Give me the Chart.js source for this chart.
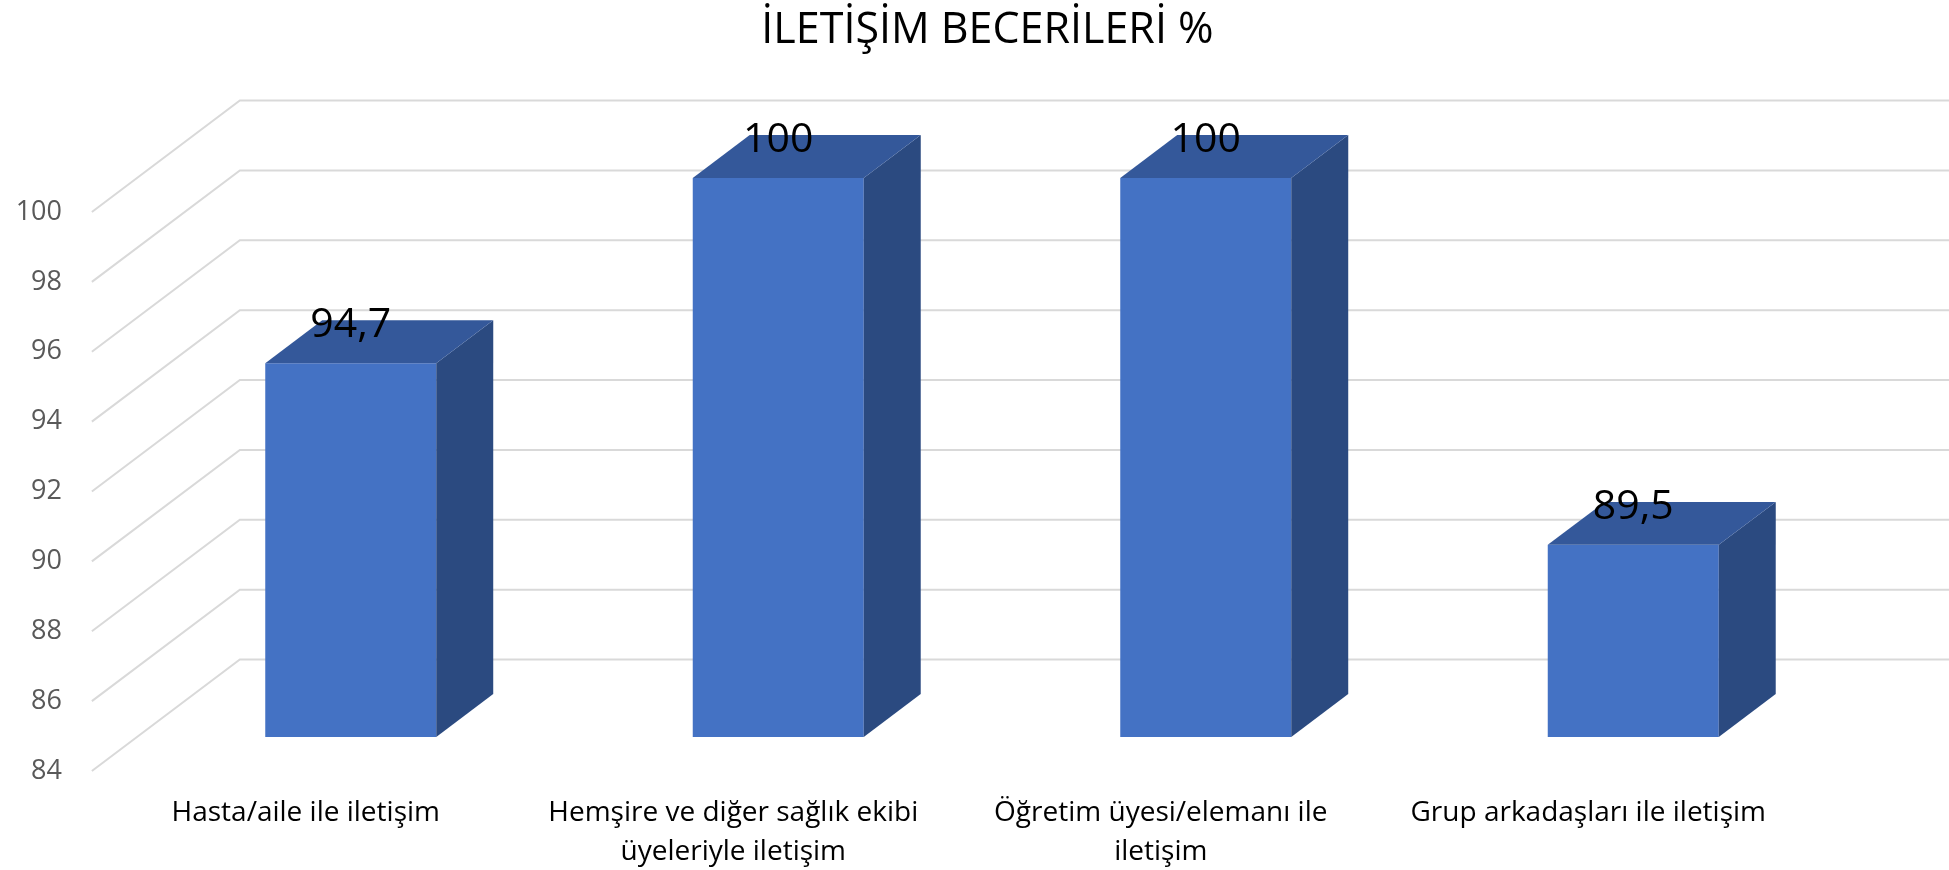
<!DOCTYPE html>
<html>
<head>
<meta charset="utf-8">
<script src="https://cdn.jsdelivr.net/npm/chart.js@4.4.1/dist/chart.umd.min.js"></script>
<style>
  html, body { margin: 0; padding: 0; background: #fff; }
  canvas { display: block; }
</style>
</head>
<body>
<canvas id="myChart" width="1949" height="870"></canvas>
<script>
const categories = [
  "Hasta/aile ile iletişim",
  ["Hemşire ve diğer sağlık ekibi", "üyeleriyle iletişim"],
  ["Öğretim üyesi/elemanı ile", "iletişim"],
  "Grup arkadaşları ile iletişim",
];
const values = [94.7, 100, 100, 89.5];
const yTicks = [84, 86, 88, 90, 92, 94, 96, 98, 100];

const FONT = "'Open Sans', 'Noto Sans', sans-serif";
// depth of the fake 3d box (front wall -> back wall)
const DEPTH = { x: 148, y: -111.5 };
const BAR_FRONT = 0.305; // where the bars start in the depth
const BAR_BACK = 0.69;

const fmt = (v) => v.toLocaleString("tr-TR");

const box3d = {
  id: "box3d",
  beforeDatasetsDraw(chart) {
    const { ctx, chartArea, scales } = chart;
    const fx = chartArea.left - BAR_FRONT * DEPTH.x;
    ctx.save();
    ctx.strokeStyle = "#d9d9d9";
    ctx.lineWidth = 2;
    yTicks.forEach((t) => {
      const fy = scales.y.getPixelForValue(t) - BAR_FRONT * DEPTH.y;
      const bx = fx + DEPTH.x;
      const by = fy + DEPTH.y;
      ctx.beginPath();
      ctx.moveTo(fx, fy);
      ctx.lineTo(bx, by);
      ctx.lineTo(chart.width, by);
      ctx.stroke();
    });
    ctx.restore();
  },
  afterDatasetsDraw(chart) {
    const { ctx, chartArea } = chart;
    const meta = chart.getDatasetMeta(0);
    const dx = (BAR_BACK - BAR_FRONT) * DEPTH.x;
    const dy = (BAR_BACK - BAR_FRONT) * DEPTH.y;
    ctx.save();
    meta.data.forEach((bar) => {
      const { x, y, base, width } = bar.getProps(["x", "y", "base", "width"], true);
      const bot = Math.min(base, chartArea.bottom);
      const l = x - width / 2;
      const r = x + width / 2;
      // side face
      ctx.fillStyle = "#2b4a80";
      ctx.beginPath();
      ctx.moveTo(r, y);
      ctx.lineTo(r + dx, y + dy);
      ctx.lineTo(r + dx, bot + dy);
      ctx.lineTo(r, bot);
      ctx.closePath();
      ctx.fill();
      // top face
      ctx.fillStyle = "#34589a";
      ctx.beginPath();
      ctx.moveTo(l, y);
      ctx.lineTo(r, y);
      ctx.lineTo(r + dx, y + dy);
      ctx.lineTo(l + dx, y + dy);
      ctx.closePath();
      ctx.fill();
    });
    // value labels
    ctx.fillStyle = "#000";
    ctx.font = "41px " + FONT;
    ctx.textAlign = "center";
    ctx.textBaseline = "middle";
    meta.data.forEach((bar, i) => {
      ctx.fillText(fmt(values[i]), bar.x, bar.y - 38);
    });
    ctx.restore();
  },
};

const ctx = document.getElementById("myChart");

new Chart(ctx, {
  type: "bar",
  data: {
    labels: categories,
    datasets: [
      {
        data: values,
        backgroundColor: "#4472c4",
        categoryPercentage: 1,
        barPercentage: 0.4,
      },
    ],
  },
  options: {
    responsive: false,
    animation: false,
    devicePixelRatio: 1,
    locale: "tr-TR",
    // negative right padding just pushes the centred title a bit to the right
    layout: { padding: { left: 0, right: -26, top: 0, bottom: 0 } },
    plugins: {
      legend: { display: false },
      tooltip: { enabled: false },
      title: {
        display: true,
        text: "İLETİŞİM BECERİLERİ %",
        color: "#000",
        font: { family: FONT, size: 43, weight: "normal", lineHeight: 1.2 },
        padding: { top: 5, bottom: 121.4 },
      },
    },
    scales: {
      x: {
        grid: { display: false, drawTicks: false },
        border: { display: false },
        ticks: {
          color: "#000",
          font: { family: FONT, size: 28, lineHeight: 1.393 },
          padding: 57,
          labelOffset: -45,
          maxRotation: 0,
          autoSkip: false,
        },
        afterFit(s) {
          s.height = 133;
        },
      },
      y: {
        min: yTicks[0],
        max: yTicks[yTicks.length - 1],
        grid: { display: false, drawTicks: false },
        border: { display: false },
        ticks: {
          stepSize: yTicks[1] - yTicks[0],
          color: "#595959",
          font: { family: FONT, size: 27 },
          padding: 75,
          labelOffset: 34,
        },
        afterFit(s) {
          s.width = 137;
        },
      },
      y2: {
        position: "right",
        grid: { display: false, drawTicks: false },
        border: { display: false },
        ticks: { display: false },
        afterFit(s) {
          s.width = 128;
        },
      },
    },
  },
  plugins: [box3d],
});
</script>
</body>
</html>
